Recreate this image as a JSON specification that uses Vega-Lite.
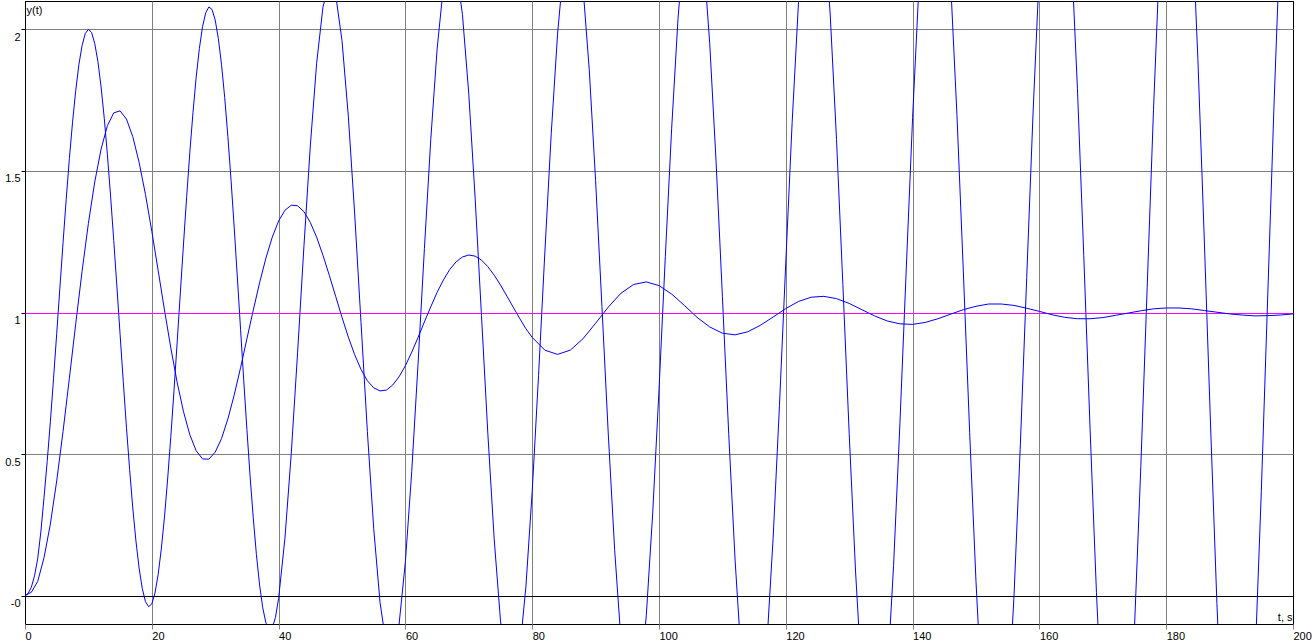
{
  "$schema": "https://vega.github.io/schema/vega-lite/v6.json",
  "width": 1268,
  "height": 623,
  "autosize": {"type": "none"},
  "padding": {"left": 25, "top": 1, "right": 22, "bottom": 19},
  "background": "#ffffff",
  "config": {
    "view": {"stroke": "#000000", "strokeWidth": 1},
    "axis": {
      "labelFont": "Liberation Sans", "labelFontSize": 11, "labelColor": "#000000",
      "titleFont": "Liberation Sans", "titleFontSize": 11, "titleFontWeight": "normal", "titleColor": "#000000",
      "domain": false, "gridWidth": 1, "gridOpacity": 1, "labelOverlap": false, "labelFlush": false
    }
  },
  "datasets": {
    "a": [
      {"t":0,"y":0},{"t":0.5,"y":0.008},{"t":1,"y":0.03},{"t":1.5,"y":0.07},{"t":2,"y":0.13},{"t":2.5,"y":0.225},{"t":3,"y":0.347},{"t":3.5,"y":0.474},{"t":4,"y":0.614},{"t":4.5,"y":0.766},
      {"t":5,"y":0.925},{"t":5.5,"y":1.086},{"t":6,"y":1.246},{"t":6.5,"y":1.4},{"t":7,"y":1.544},{"t":7.5,"y":1.672},{"t":8,"y":1.784},{"t":8.5,"y":1.875},{"t":9,"y":1.942},{"t":9.5,"y":1.985},
      {"t":10,"y":2.0},{"t":10.5,"y":1.989},{"t":11,"y":1.95},{"t":11.5,"y":1.886},{"t":12,"y":1.797},{"t":12.5,"y":1.686},{"t":13,"y":1.557},{"t":13.5,"y":1.411},{"t":14,"y":1.254},{"t":14.5,"y":1.09},
      {"t":15,"y":0.922},{"t":15.5,"y":0.756},{"t":16,"y":0.595},{"t":16.5,"y":0.446},{"t":17,"y":0.31},{"t":17.5,"y":0.193},{"t":18,"y":0.097},{"t":18.5,"y":0.025},{"t":19,"y":-0.021},{"t":19.5,"y":-0.039},
      {"t":20,"y":-0.029},{"t":20.5,"y":0.009},{"t":21,"y":0.074},{"t":21.5,"y":0.165},{"t":22,"y":0.278},{"t":22.5,"y":0.412},{"t":23,"y":0.562},{"t":23.5,"y":0.724},{"t":24,"y":0.895},{"t":24.5,"y":1.069},
      {"t":25,"y":1.242},{"t":25.5,"y":1.409},{"t":26,"y":1.566},{"t":26.5,"y":1.707},{"t":27,"y":1.831},{"t":27.5,"y":1.932},{"t":28,"y":2.009},{"t":28.5,"y":2.058},{"t":29,"y":2.079},{"t":29.5,"y":2.07},
      {"t":30,"y":2.033},{"t":30.5,"y":1.967},{"t":31,"y":1.875},{"t":31.5,"y":1.759},{"t":32,"y":1.621},{"t":32.5,"y":1.467},{"t":33,"y":1.299},{"t":33.5,"y":1.122},{"t":34,"y":0.941},{"t":34.5,"y":0.761},
      {"t":35,"y":0.587},{"t":35.5,"y":0.423},{"t":36,"y":0.275},{"t":36.5,"y":0.145},{"t":37,"y":0.038},{"t":37.5,"y":-0.043},{"t":38,"y":-0.096},{"t":38.5,"y":-0.12},{"t":39,"y":-0.114},{"t":39.5,"y":-0.077},
      {"t":40,"y":-0.01},{"t":41,"y":0.203},{"t":42,"y":0.503},{"t":43,"y":0.86},{"t":44,"y":1.235},{"t":45,"y":1.588},{"t":46,"y":1.88},{"t":47,"y":2.079},{"t":48,"y":2.163},{"t":49,"y":2.122},
      {"t":50,"y":1.96},{"t":51,"y":1.693},{"t":52,"y":1.348},{"t":53,"y":0.964},{"t":54,"y":0.58},{"t":55,"y":0.238},{"t":56,"y":-0.024},{"t":57,"y":-0.177},{"t":58,"y":-0.205},{"t":59,"y":-0.102},
      {"t":60,"y":0.12},{"t":61,"y":0.439},{"t":62,"y":0.821},{"t":63,"y":1.226},{"t":64,"y":1.61},{"t":65,"y":1.93},{"t":66,"y":2.153},{"t":67,"y":2.253},{"t":68,"y":2.219},{"t":69,"y":2.052},
      {"t":70,"y":1.771},{"t":71,"y":1.404},{"t":72,"y":0.99},{"t":73,"y":0.574},{"t":74,"y":0.201},{"t":75,"y":-0.089},{"t":76,"y":-0.263},{"t":77,"y":-0.303},{"t":78,"y":-0.202},{"t":79,"y":0.03},
      {"t":80,"y":0.368},{"t":81,"y":0.777},{"t":82,"y":1.214},{"t":83,"y":1.631},{"t":84,"y":1.983},{"t":85,"y":2.232},{"t":86,"y":2.35},{"t":87,"y":2.323},{"t":88,"y":2.152},{"t":89,"y":1.857},
      {"t":90,"y":1.466},{"t":91,"y":1.021},{"t":92,"y":0.571},{"t":93,"y":0.164},{"t":94,"y":-0.157},{"t":95,"y":-0.355},{"t":96,"y":-0.408},{"t":97,"y":-0.309},{"t":98,"y":-0.069},{"t":99,"y":0.289},
      {"t":100,"y":0.727},{"t":101,"y":1.198},{"t":102,"y":1.651},{"t":103,"y":2.038},{"t":104,"y":2.315},{"t":105,"y":2.453},{"t":106,"y":2.435},{"t":107,"y":2.261},{"t":108,"y":1.95},{"t":109,"y":1.534},
      {"t":110,"y":1.057},{"t":111,"y":0.57},{"t":112,"y":0.126},{"t":113,"y":-0.228},{"t":114,"y":-0.452},{"t":115,"y":-0.521},{"t":116,"y":-0.426},{"t":117,"y":-0.176},{"t":118,"y":0.203},{"t":119,"y":0.671},
      {"t":120,"y":1.178},{"t":121,"y":1.67},{"t":122,"y":2.094},{"t":123,"y":2.403},{"t":124,"y":2.563},{"t":125,"y":2.555},{"t":126,"y":2.379},{"t":127,"y":2.054},{"t":128,"y":1.611},{"t":129,"y":1.099},
      {"t":130,"y":0.572},{"t":131,"y":0.087},{"t":132,"y":-0.303},{"t":133,"y":-0.556},{"t":134,"y":-0.642},{"t":135,"y":-0.552},{"t":136,"y":-0.293},{"t":137,"y":0.107},{"t":138,"y":0.607},{"t":139,"y":1.154},
      {"t":140,"y":1.688},{"t":141,"y":2.152},{"t":142,"y":2.496},{"t":143,"y":2.68},{"t":144,"y":2.685},{"t":145,"y":2.508},{"t":146,"y":2.166},{"t":147,"y":1.696},{"t":148,"y":1.146},{"t":149,"y":0.577},
      {"t":150,"y":0.049},{"t":151,"y":-0.381},{"t":152,"y":-0.665},{"t":153,"y":-0.772},{"t":154,"y":-0.688},{"t":155,"y":-0.42},{"t":156,"y":0.002},{"t":157,"y":0.536},{"t":158,"y":1.124},{"t":159,"y":1.704},
      {"t":160,"y":2.212},{"t":161,"y":2.593},{"t":162,"y":2.806},{"t":163,"y":2.825},{"t":164,"y":2.647},{"t":165,"y":2.289},{"t":166,"y":1.79},{"t":167,"y":1.201},{"t":168,"y":0.586},{"t":169,"y":0.01},
      {"t":170,"y":-0.463},{"t":171,"y":-0.782},{"t":172,"y":-0.911},{"t":173,"y":-0.834},{"t":174,"y":-0.559},{"t":175,"y":-0.113},{"t":176,"y":0.457},{"t":177,"y":1.089},{"t":178,"y":1.718},{"t":179,"y":2.273},
      {"t":180,"y":2.697},{"t":181,"y":2.939},{"t":182,"y":2.975},{"t":183,"y":2.797},{"t":184,"y":2.424},{"t":185,"y":1.894},{"t":186,"y":1.263},{"t":187,"y":0.599},{"t":188,"y":-0.028},{"t":189,"y":-0.548},
      {"t":190,"y":-0.905},{"t":191,"y":-1.06},{"t":192,"y":-0.993},{"t":193,"y":-0.71},{"t":194,"y":-0.24},{"t":195,"y":0.367},{"t":196,"y":1.048},{"t":197,"y":1.729},{"t":198,"y":2.337},{"t":199,"y":2.805},
      {"t":200,"y":3.082}
    ],
    "b": [
      {"t":0,"y":0},{"t":1,"y":0.012},{"t":2,"y":0.05},{"t":3,"y":0.134},{"t":4,"y":0.253},{"t":5,"y":0.405},{"t":6,"y":0.58},{"t":7,"y":0.768},{"t":8,"y":0.96},{"t":9,"y":1.145},
      {"t":10,"y":1.315},{"t":11,"y":1.461},{"t":12,"y":1.577},{"t":13,"y":1.66},{"t":14,"y":1.705},{"t":15,"y":1.712},{"t":16,"y":1.683},{"t":17,"y":1.621},{"t":18,"y":1.53},{"t":19,"y":1.417},
      {"t":20,"y":1.287},{"t":21,"y":1.149},{"t":22,"y":1.009},{"t":23,"y":0.875},{"t":24,"y":0.753},{"t":25,"y":0.65},{"t":26,"y":0.568},{"t":27,"y":0.512},{"t":28,"y":0.483},{"t":29,"y":0.482},
      {"t":30,"y":0.507},{"t":31,"y":0.555},{"t":32,"y":0.624},{"t":33,"y":0.709},{"t":34,"y":0.805},{"t":35,"y":0.907},{"t":36,"y":1.008},{"t":37,"y":1.105},{"t":38,"y":1.192},{"t":39,"y":1.266},
      {"t":40,"y":1.323},{"t":41,"y":1.361},{"t":42,"y":1.379},{"t":43,"y":1.377},{"t":44,"y":1.356},{"t":45,"y":1.318},{"t":46,"y":1.266},{"t":47,"y":1.202},{"t":48,"y":1.131},{"t":49,"y":1.057},
      {"t":50,"y":0.983},{"t":51,"y":0.913},{"t":52,"y":0.851},{"t":53,"y":0.799},{"t":54,"y":0.759},{"t":55,"y":0.734},{"t":56,"y":0.723},{"t":57,"y":0.726},{"t":58,"y":0.744},{"t":59,"y":0.773},
      {"t":60,"y":0.812},{"t":61,"y":0.86},{"t":62,"y":0.912},{"t":63,"y":0.967},{"t":64,"y":1.02},{"t":65,"y":1.071},{"t":66,"y":1.115},{"t":67,"y":1.152},{"t":68,"y":1.179},{"t":69,"y":1.196},
      {"t":70,"y":1.203},{"t":71,"y":1.199},{"t":72,"y":1.185},{"t":73,"y":1.162},{"t":74,"y":1.132},{"t":75,"y":1.097},{"t":76,"y":1.058},{"t":77,"y":1.019},{"t":78,"y":0.98},{"t":79,"y":0.943},
      {"t":80,"y":0.912},{"t":82,"y":0.867},{"t":84,"y":0.852},{"t":86,"y":0.867},{"t":88,"y":0.907},{"t":90,"y":0.962},{"t":92,"y":1.019},{"t":94,"y":1.068},{"t":96,"y":1.099},{"t":98,"y":1.108},
      {"t":100,"y":1.095},{"t":102,"y":1.065},{"t":104,"y":1.025},{"t":106,"y":0.983},{"t":108,"y":0.949},{"t":110,"y":0.927},{"t":112,"y":0.921},{"t":114,"y":0.932},{"t":116,"y":0.955},{"t":118,"y":0.984},
      {"t":120,"y":1.014},{"t":122,"y":1.039},{"t":124,"y":1.054},{"t":126,"y":1.057},{"t":128,"y":1.049},{"t":130,"y":1.032},{"t":132,"y":1.01},{"t":134,"y":0.988},{"t":136,"y":0.97},{"t":138,"y":0.96},
      {"t":140,"y":0.958},{"t":142,"y":0.965},{"t":144,"y":0.978},{"t":146,"y":0.994},{"t":148,"y":1.01},{"t":150,"y":1.022},{"t":152,"y":1.03},{"t":154,"y":1.03},{"t":156,"y":1.025},{"t":158,"y":1.015},
      {"t":160,"y":1.004},{"t":162,"y":0.992},{"t":164,"y":0.983},{"t":166,"y":0.978},{"t":168,"y":0.978},{"t":170,"y":0.982},{"t":172,"y":0.99},{"t":174,"y":0.998},{"t":176,"y":1.006},{"t":178,"y":1.013},
      {"t":180,"y":1.016},{"t":182,"y":1.016},{"t":184,"y":1.013},{"t":186,"y":1.007},{"t":188,"y":1.001},{"t":190,"y":0.995},{"t":192,"y":0.991},{"t":194,"y":0.988},{"t":196,"y":0.989},{"t":198,"y":0.991},
      {"t":200,"y":0.995}
    ]
  },
  "encoding": {
    "x": {
      "field": "t", "type": "quantitative",
      "scale": {"domain": [0, 200], "nice": false, "zero": false},
      "axis": {
        "values": [0, 20, 40, 60, 80, 100, 120, 140, 160, 180, 200],
        "title": "t, s", "titleX": 1267, "titleY": -4, "titleAlign": "right", "titleBaseline": "alphabetic", "titleAngle": 0,
        "labelAlign": "left", "labelPadding": 1, "tickSize": 5, "tickColor": "#808080",
        "gridColor": {"condition": {"test": "datum.value == 0 || datum.value == 200", "value": "#000000"}, "value": "#808080"}
      }
    },
    "y": {
      "field": "y", "type": "quantitative",
      "scale": {"domain": [-0.1, 2.1], "nice": false, "zero": false},
      "axis": {
        "values": [0, 0.5, 1, 1.5, 2],
        "format": ".1~f",
        "labelExpr": "datum.value == 0 ? '-0' : datum.label",
        "title": "y(t)", "titleAngle": 0, "titleX": 1, "titleY": 12, "titleAlign": "left", "titleBaseline": "alphabetic",
        "labelBaseline": "top", "labelOffset": 2, "labelPadding": 1, "tickSize": 4, "tickColor": "#000000",
        "gridColor": {"condition": [{"test": "datum.value == 1", "value": "#ff00ff"}, {"test": "datum.value == 0", "value": "#000000"}], "value": "#808080"}
      }
    }
  },
  "layer": [
    {"data": {"name": "a"}, "mark": {"type": "line", "color": "#0000ff", "strokeWidth": 1, "clip": true}},
    {"data": {"name": "b"}, "mark": {"type": "line", "color": "#0000ff", "strokeWidth": 1, "clip": true}}
  ]
}
